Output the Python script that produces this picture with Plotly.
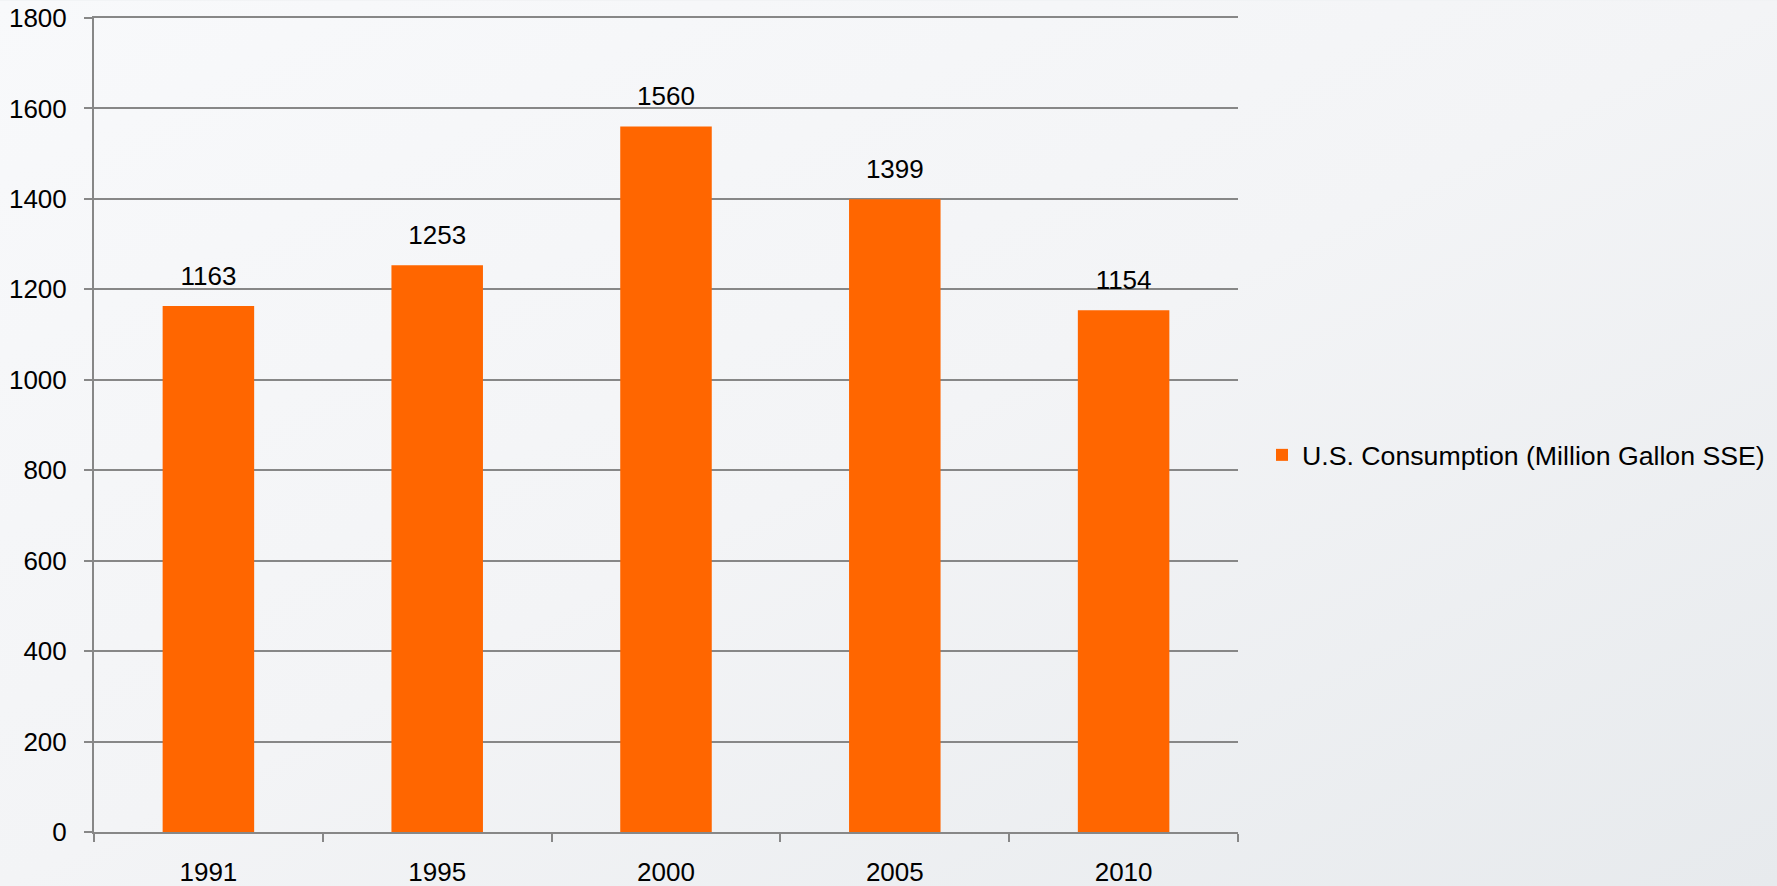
import plotly.graph_objects as go
from urllib.parse import quote

years = ["1991", "1995", "2000", "2005", "2010"]
consumption = [1163, 1253, 1560, 1399, 1154]
series_name = "U.S. Consumption (Million Gallon SSE)"
y_ticks = [0, 200, 400, 600, 800, 1000, 1200, 1400, 1600, 1800]

W, H = 1777, 886
L, R, T, B = 94, 539, 17.5, 54
PW, PH = W - L - R, H - T - B
FONT = "Arial, Liberation Sans, sans-serif"
GRID = "#878787"
FS = 26

bg_svg = (
    "<svg xmlns='http://www.w3.org/2000/svg' width='1777' height='886' "
    "viewBox='0 0 1777 886' preserveAspectRatio='none'>"
    "<defs><linearGradient id='g' x1='0' y1='0' x2='1' y2='1'>"
    "<stop offset='0' stop-color='#f8f9fb'/>"
    "<stop offset='0.5' stop-color='#f3f4f6'/>"
    "<stop offset='1' stop-color='#e7eaed'/>"
    "</linearGradient></defs>"
    "<rect width='1777' height='886' fill='url(#g)'/></svg>"
)
bg_uri = "data:image/svg+xml;charset=utf-8," + quote(bg_svg)

fig = go.Figure()
fig.add_trace(go.Bar(
    x=years, y=consumption, name=series_name,
    marker=dict(color="#FF6600", line=dict(width=0)),
    width=0.4, showlegend=True, hoverinfo="skip",
))
fig.add_trace(go.Scatter(
    x=years, y=consumption, mode="markers+text",
    text=[str(v) for v in consumption], textposition="top center",
    marker=dict(size=22, opacity=0),
    textfont=dict(family=FONT, size=FS, color="#000000"),
    cliponaxis=False, showlegend=False, hoverinfo="skip",
))

fig.update_layout(
    template="none",
    width=W, height=H,
    margin=dict(l=L, r=R, t=T, b=B, pad=0, autoexpand=False),
    paper_bgcolor="#f0f2f4",
    plot_bgcolor="rgba(0,0,0,0)",
    font=dict(family=FONT, size=FS, color="#000000"),
    showlegend=True,
    legend=dict(xref="container", yref="container",
                x=1262 / W, y=1 - 455 / H,
                xanchor="left", yanchor="middle",
                bgcolor="rgba(0,0,0,0)", borderwidth=0,
                font=dict(family=FONT, size=26.7, color="#000000")),
    images=[dict(source=bg_uri, xref="paper", yref="paper",
                 x=-L / PW, y=1 + T / PH, sizex=W / PW, sizey=H / PH,
                 xanchor="left", yanchor="top", sizing="stretch",
                 layer="below")],
    xaxis=dict(type="category", showgrid=False, automargin=False,
               showline=True, mirror=True, linecolor=GRID, linewidth=2,
               ticks="outside", tickson="boundaries", ticklen=8,
               tickcolor=GRID, tickwidth=2, zeroline=False,
               ticklabelstandoff=16, range=[-0.5, 4.5]),
    yaxis=dict(range=[0, 1800], tickvals=y_ticks, automargin=False,
               showgrid=True, gridcolor=GRID, gridwidth=2,
               showline=True, linecolor=GRID, linewidth=2,
               ticks="outside", ticklen=8, tickcolor=GRID, tickwidth=2,
               ticklabelstandoff=12, zeroline=False),
    bargap=0.6,
)

fig.write_html(
    "out.html",
    config={"displayModeBar": False},
    post_script="document.body.style.margin='0';document.body.style.overflow='hidden';",
)
